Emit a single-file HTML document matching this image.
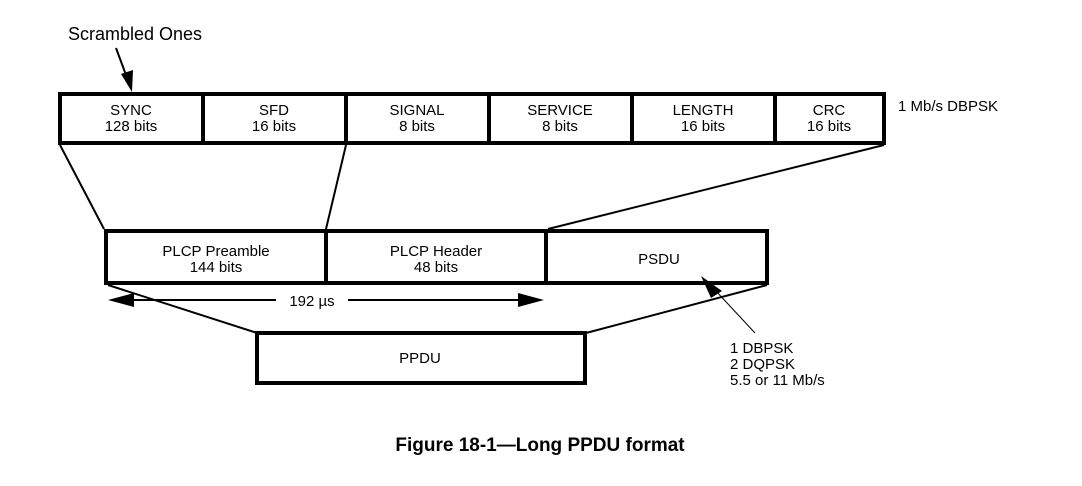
<!DOCTYPE html>
<html><head><style>
body{margin:0;background:#fff;}
svg text{font-family:"Liberation Sans",Arial,sans-serif;font-size:15px;fill:#000;}
</style></head><body>
<svg width="1082" height="481" viewBox="0 0 1082 481" xmlns="http://www.w3.org/2000/svg">
<g fill="none" stroke="#000" stroke-width="4">
<rect x="60" y="94" width="824" height="49"/>
<line x1="203" y1="94" x2="203" y2="143"/><line x1="346" y1="94" x2="346" y2="143"/>
<line x1="489" y1="94" x2="489" y2="143"/><line x1="632" y1="94" x2="632" y2="143"/>
<line x1="775" y1="94" x2="775" y2="143"/>
<rect x="106" y="231" width="661" height="52"/>
<line x1="326" y1="231" x2="326" y2="283"/><line x1="546" y1="231" x2="546" y2="283"/>
<rect x="257" y="333" width="328" height="50"/>
</g>
<g stroke="#000" stroke-width="2" fill="none">
<line x1="60" y1="145" x2="104" y2="229"/>
<line x1="346" y1="145" x2="326" y2="229"/>
<line x1="884" y1="145" x2="548" y2="229"/>
<line x1="108" y1="285" x2="257" y2="333"/>
<line x1="767" y1="285" x2="586" y2="333"/>
<line x1="130" y1="300" x2="276" y2="300"/>
<line x1="348" y1="300" x2="525" y2="300"/>
<line x1="116" y1="48" x2="126" y2="75"/>
</g>
<line x1="755" y1="333" x2="715" y2="290" stroke="#000" stroke-width="1"/>
<polygon points="108,300 134,293 134,307" fill="#000"/>
<polygon points="544,300 518,293 518,307" fill="#000"/>
<polygon points="132,92 121,74 133,70" fill="#000"/>
<polygon points="701,276 722,291 711,298" fill="#000"/>
<text x="68" y="40" font-size="18" style="font-size:18px">Scrambled Ones</text>
<g text-anchor="middle">
<text x="131" y="115">SYNC</text><text x="131" y="131">128 bits</text>
<text x="274" y="115">SFD</text><text x="274" y="131">16 bits</text>
<text x="417" y="115">SIGNAL</text><text x="417" y="131">8 bits</text>
<text x="560" y="115">SERVICE</text><text x="560" y="131">8 bits</text>
<text x="703" y="115">LENGTH</text><text x="703" y="131">16 bits</text>
<text x="829" y="115">CRC</text><text x="829" y="131">16 bits</text>
<text x="216" y="256">PLCP Preamble</text><text x="216" y="272">144 bits</text>
<text x="436" y="256">PLCP Header</text><text x="436" y="272">48 bits</text>
<text x="659" y="264">PSDU</text>
<text x="420" y="363">PPDU</text>
<text x="312" y="306">192 µs</text>
<text x="540" y="451" style="font-size:19px;font-weight:bold">Figure 18-1—Long PPDU format</text>
</g>
<text x="898" y="111">1 Mb/s DBPSK</text>
<text x="730" y="353">1 DBPSK</text>
<text x="730" y="369">2 DQPSK</text>
<text x="730" y="385">5.5 or 11 Mb/s</text>
</svg>
</body></html>
